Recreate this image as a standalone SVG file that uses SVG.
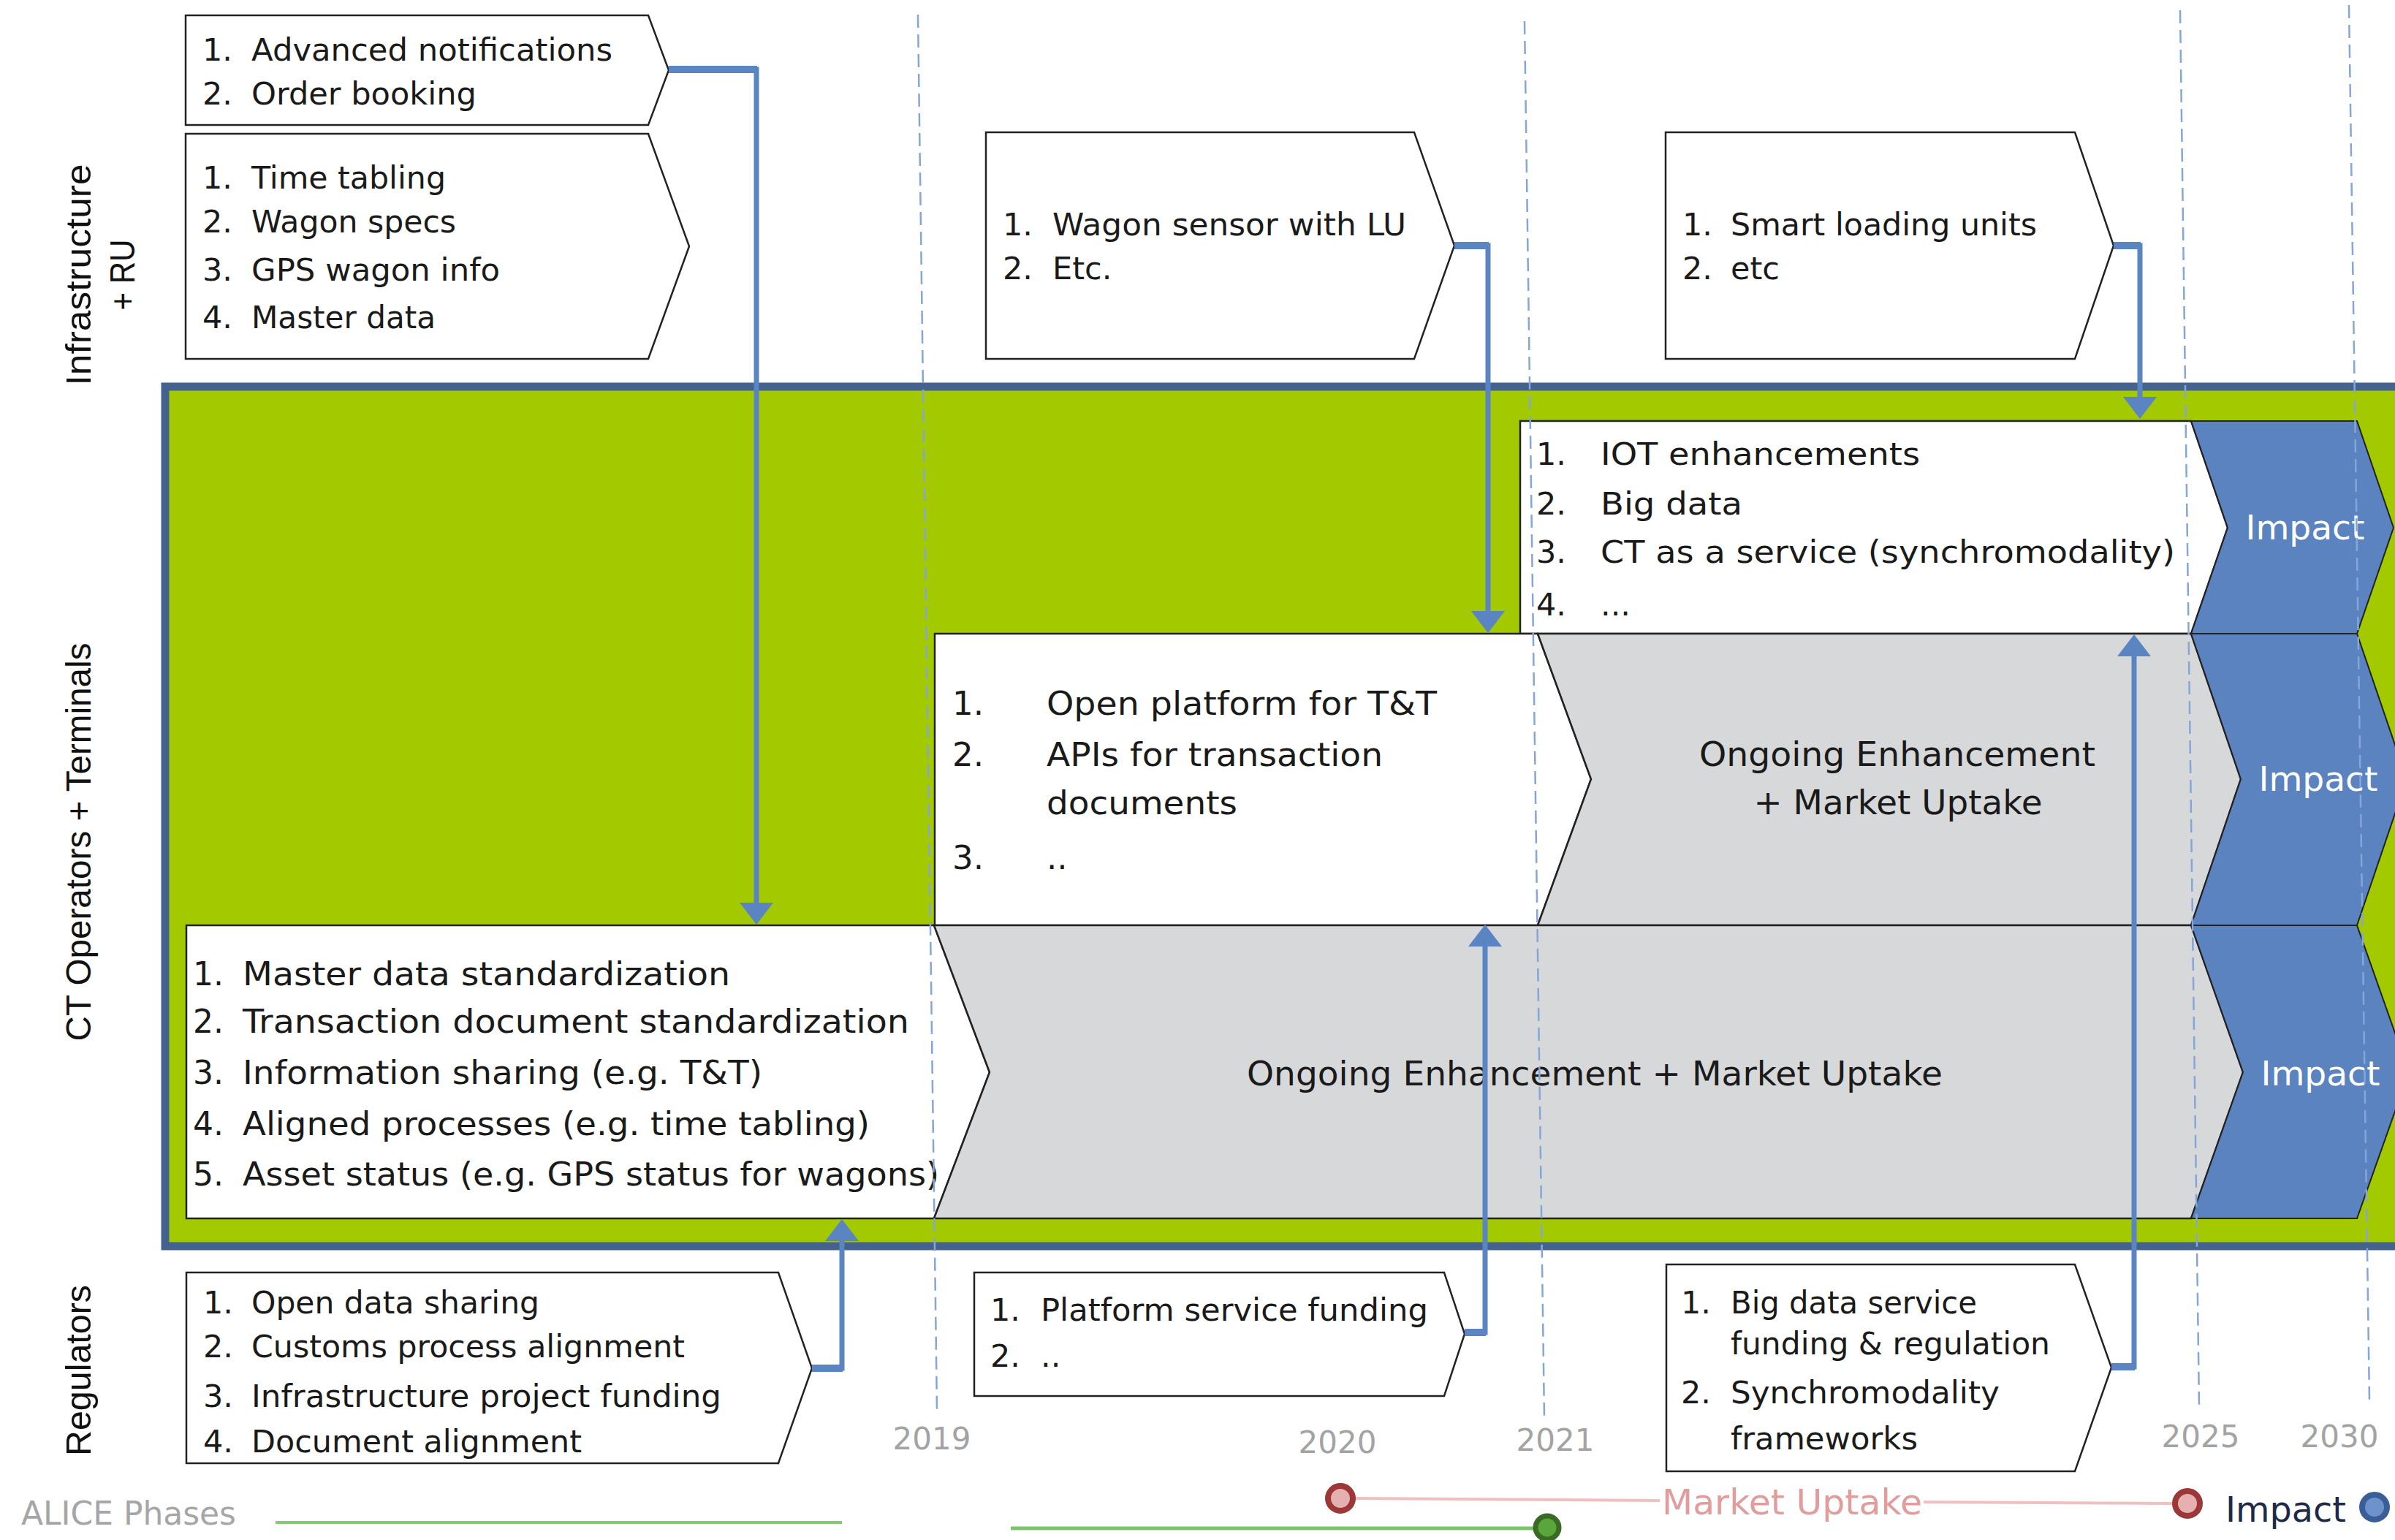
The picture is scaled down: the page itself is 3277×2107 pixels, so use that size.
<svg xmlns="http://www.w3.org/2000/svg" width="3277" height="2107" viewBox="0 0 3277 2107">
<style>
.t{font-family:"DejaVu Sans","Liberation Sans",sans-serif;font-size:43px;fill:#1a1a1a}
.t45{font-size:45px}
.t47{font-size:47px}
.t44{font-size:44px}
.mid{text-anchor:middle}
.imp-t{font-family:"DejaVu Sans","Liberation Sans",sans-serif;font-size:47px;fill:#ffffff;text-anchor:middle}
.lab{font-family:"Liberation Sans",Arial,sans-serif;font-size:48px;fill:#111111;text-anchor:middle}
.yr{font-family:"DejaVu Sans","Liberation Sans",sans-serif;font-size:42px;fill:#a3a3a3;text-anchor:middle}
.box{fill:#ffffff;stroke:#222222;stroke-width:2.5}
.gray{fill:#d7d8da;stroke:#222222;stroke-width:2.5}
.imp{fill:#5b83bf;stroke:#222222;stroke-width:2}
.dash{stroke:#84a6d9;stroke-width:2.5;stroke-dasharray:18 9;fill:none}
.conn{stroke:#5a84c2;stroke-width:7;fill:none;marker-end:url(#ah)}
.stub{stroke:#5a84c2;stroke-width:10;fill:none}
.red{fill:#e6b0b0;stroke:#9c3838;stroke-width:8}
</style>
<defs>
<marker id="ah" markerUnits="userSpaceOnUse" markerWidth="30" markerHeight="46" refX="0" refY="23" orient="auto" viewBox="0 0 30 46">
<path d="M0,0 L30,23 L0,46 z" fill="#5a84c2"/>
</marker>
</defs>
<rect width="3277" height="2107" fill="#ffffff"/>

<!-- lane labels -->
<g id="lane-labels">
<text class="lab" transform="translate(124,376) rotate(-90)" textLength="303" lengthAdjust="spacingAndGlyphs">Infrastructure</text>
<text class="lab" transform="translate(184,376) rotate(-90)" textLength="97" lengthAdjust="spacingAndGlyphs">+ RU</text>
<text class="lab" transform="translate(124,1152) rotate(-90)" textLength="545" lengthAdjust="spacingAndGlyphs">CT Operators + Terminals</text>
<text class="lab" transform="translate(124,1875) rotate(-90)" textLength="234" lengthAdjust="spacingAndGlyphs">Regulators</text>
</g>

<!-- green CT area -->
<g id="ct-area">
<rect x="226" y="529" width="3100" height="1176" fill="#a3c900" stroke="#45628f" stroke-width="11"/>
</g>

<!-- infrastructure boxes -->
<g id="n-advanced">
<path class="box" d="M254,21 H887 L915,96 L887,171 H254 Z"/>
<text class="t" x="277" y="83">1.</text><text class="t" x="344" y="83" textLength="494" lengthAdjust="spacingAndGlyphs">Advanced notifications</text>
<text class="t" x="277" y="143">2.</text><text class="t" x="344" y="143" textLength="308" lengthAdjust="spacingAndGlyphs">Order booking</text>
</g>
<g id="n-timetabling">
<path class="box" d="M254,183 H887 L943,337 L887,491 H254 Z"/>
<text class="t" x="277" y="258">1.</text><text class="t" x="344" y="258" textLength="266" lengthAdjust="spacingAndGlyphs">Time tabling</text>
<text class="t" x="277" y="318">2.</text><text class="t" x="344" y="318" textLength="280" lengthAdjust="spacingAndGlyphs">Wagon specs</text>
<text class="t" x="277" y="384">3.</text><text class="t" x="344" y="384" textLength="340" lengthAdjust="spacingAndGlyphs">GPS wagon info</text>
<text class="t" x="277" y="449">4.</text><text class="t" x="344" y="449" textLength="252" lengthAdjust="spacingAndGlyphs">Master data</text>
</g>
<g id="n-wagonsensor">
<path class="box" d="M1349,181 H1935 L1990,336 L1935,491 H1349 Z"/>
<text class="t" x="1372" y="322">1.</text><text class="t" x="1440" y="322" textLength="484" lengthAdjust="spacingAndGlyphs">Wagon sensor with LU</text>
<text class="t" x="1372" y="382">2.</text><text class="t" x="1440" y="382">Etc.</text>
</g>
<g id="n-smartlu">
<path class="box" d="M2279,181 H2839 L2892,336 L2839,491 H2279 Z"/>
<text class="t" x="2302" y="322">1.</text><text class="t" x="2368" y="322" textLength="419" lengthAdjust="spacingAndGlyphs">Smart loading units</text>
<text class="t" x="2302" y="382">2.</text><text class="t" x="2368" y="382">etc</text>
</g>

<!-- CT rows -->
<g id="n-iot">
<path class="box" d="M2080,576 H2998 L3048,722 L2998,867 H2080 Z"/>
<text class="t" x="2102" y="636">1.</text><text class="t" x="2190" y="636" textLength="437" lengthAdjust="spacingAndGlyphs">IOT enhancements</text>
<text class="t" x="2102" y="704">2.</text><text class="t" x="2190" y="704" textLength="194" lengthAdjust="spacingAndGlyphs">Big data</text>
<text class="t" x="2102" y="770">3.</text><text class="t" x="2190" y="770" textLength="786" lengthAdjust="spacingAndGlyphs">CT as a service (synchromodality)</text>
<text class="t" x="2102" y="842">4.</text><text class="t" x="2190" y="842">...</text>
</g>
<g id="n-impact-top">
<path class="imp" d="M2998,576 H3225 L3275,722 L3225,867 H2998 L3048,722 Z"/>
<text class="imp-t" x="3154" y="738" textLength="163" lengthAdjust="spacingAndGlyphs">Impact</text>
</g>

<g id="n-openplatform">
<path class="box" d="M1279,867 H2104 L2177,1066 L2104,1266 H1279 Z"/>
<text class="t t45" x="1303" y="978">1.</text><text class="t t45" x="1432" y="978" textLength="534" lengthAdjust="spacingAndGlyphs">Open platform for T&amp;T</text>
<text class="t t45" x="1303" y="1048">2.</text><text class="t t45" x="1432" y="1048" textLength="460" lengthAdjust="spacingAndGlyphs">APIs for transaction</text>
<text class="t t45" x="1432" y="1114" textLength="261" lengthAdjust="spacingAndGlyphs">documents</text>
<text class="t t45" x="1303" y="1189">3.</text><text class="t t45" x="1432" y="1189">..</text>
</g>
<g id="n-ongoing-mid">
<path class="gray" d="M2104,867 H2998 L3066,1066 L2998,1266 H2104 L2177,1066 Z"/>
<text class="t t47 mid" x="2596" y="1048" textLength="542" lengthAdjust="spacingAndGlyphs">Ongoing Enhancement</text>
<text class="t t47 mid" x="2597" y="1114" textLength="395" lengthAdjust="spacingAndGlyphs">+ Market Uptake</text>
</g>
<g id="n-impact-mid">
<path class="imp" d="M2998,867 H3225 L3293,1066 L3225,1266 H2998 L3066,1066 Z"/>
<text class="imp-t" x="3172" y="1082" textLength="163" lengthAdjust="spacingAndGlyphs">Impact</text>
</g>

<g id="n-masterdata">
<path class="box" d="M255,1266 H1278 L1354,1467 L1278,1667 H255 Z"/>
<text class="t t44" x="264" y="1348">1.</text><text class="t t44" x="332" y="1348" textLength="667" lengthAdjust="spacingAndGlyphs">Master data standardization</text>
<text class="t t44" x="264" y="1413">2.</text><text class="t t44" x="332" y="1413" textLength="912" lengthAdjust="spacingAndGlyphs">Transaction document standardization</text>
<text class="t t44" x="264" y="1483">3.</text><text class="t t44" x="332" y="1483" textLength="711" lengthAdjust="spacingAndGlyphs">Information sharing (e.g. T&amp;T)</text>
<text class="t t44" x="264" y="1553">4.</text><text class="t t44" x="332" y="1553" textLength="858" lengthAdjust="spacingAndGlyphs">Aligned processes (e.g. time tabling)</text>
<text class="t t44" x="264" y="1622">5.</text><text class="t t44" x="332" y="1622" textLength="953" lengthAdjust="spacingAndGlyphs">Asset status (e.g. GPS status for wagons)</text>
</g>
<g id="n-ongoing-bottom">
<path class="gray" d="M1278,1266 H2998 L3069,1467 L2998,1667 H1278 L1354,1467 Z"/>
<text class="t t47 mid" x="2182" y="1485" textLength="952" lengthAdjust="spacingAndGlyphs">Ongoing Enhancement + Market Uptake</text>
</g>
<g id="n-impact-bottom">
<path class="imp" d="M2998,1266 H3225 L3296,1467 L3225,1667 H2998 L3069,1467 Z"/>
<text class="imp-t" x="3175" y="1485" textLength="163" lengthAdjust="spacingAndGlyphs">Impact</text>
</g>

<!-- regulators -->
<g id="n-opendata">
<path class="box" d="M255,1741 H1065 L1111,1872 L1065,2002 H255 Z"/>
<text class="t" x="278" y="1797">1.</text><text class="t" x="344" y="1797" textLength="394" lengthAdjust="spacingAndGlyphs">Open data sharing</text>
<text class="t" x="278" y="1857">2.</text><text class="t" x="344" y="1857" textLength="593" lengthAdjust="spacingAndGlyphs">Customs process alignment</text>
<text class="t" x="278" y="1925">3.</text><text class="t" x="344" y="1925" textLength="643" lengthAdjust="spacingAndGlyphs">Infrastructure project funding</text>
<text class="t" x="278" y="1987">4.</text><text class="t" x="344" y="1987" textLength="452" lengthAdjust="spacingAndGlyphs">Document alignment</text>
</g>
<g id="n-platformfunding">
<path class="box" d="M1333,1741 H1976 L2004,1825 L1976,1910 H1333 Z"/>
<text class="t" x="1355" y="1807">1.</text><text class="t" x="1424" y="1807" textLength="530" lengthAdjust="spacingAndGlyphs">Platform service funding</text>
<text class="t" x="1355" y="1870">2.</text><text class="t" x="1424" y="1870">..</text>
</g>
<g id="n-bigdatafunding">
<path class="box" d="M2280,1730 H2839 L2889,1871 L2839,2013 H2280 Z"/>
<text class="t" x="2300" y="1797">1.</text><text class="t" x="2368" y="1797" textLength="337" lengthAdjust="spacingAndGlyphs">Big data service</text>
<text class="t" x="2368" y="1853" textLength="437" lengthAdjust="spacingAndGlyphs">funding &amp; regulation</text>
<text class="t" x="2300" y="1920">2.</text><text class="t" x="2368" y="1920" textLength="368" lengthAdjust="spacingAndGlyphs">Synchromodality</text>
<text class="t" x="2368" y="1983" textLength="256" lengthAdjust="spacingAndGlyphs">frameworks</text>
</g>

<!-- year grid -->
<g id="years">
<line class="dash" x1="1256" y1="20" x2="1282" y2="1930"/>
<line class="dash" x1="2086" y1="29" x2="2113" y2="1940"/>
<line class="dash" x1="2983" y1="14" x2="3009" y2="1925"/>
<line class="dash" x1="3214" y1="7" x2="3242" y2="1917"/>
<text class="yr" x="1275" y="1983">2019</text>
<text class="yr" x="1830" y="1988">2020</text>
<text class="yr" x="2128" y="1985">2021</text>
<text class="yr" x="3011" y="1980">2025</text>
<text class="yr" x="3201" y="1980">2030</text>
</g>

<!-- connectors -->
<g id="connectors">
<path class="conn" d="M915,95 H1035 V1235"/>
<path class="conn" d="M1990,336 H2036 V836"/>
<path class="conn" d="M2892,336 H2928 V543"/>
<path class="conn" d="M1111,1872 H1152 V1698"/>
<path class="conn" d="M2004,1823 H2032 V1295"/>
<path class="conn" d="M2889,1870 H2920 V898"/>
<path class="stub" d="M915,95 H1036"/>
<path class="stub" d="M1990,336 H2037"/>
<path class="stub" d="M2892,336 H2929"/>
<path class="stub" d="M1111,1872 H1153"/>
<path class="stub" d="M2004,1823 H2033"/>
<path class="stub" d="M2889,1870 H2921"/>
</g>

<!-- phases legend -->
<g id="phases">
<text x="29" y="2086" font-family="DejaVu Sans, Liberation Sans, sans-serif" font-size="44" fill="#a6a6a6" textLength="294" lengthAdjust="spacingAndGlyphs">ALICE Phases</text>
<line x1="377" y1="2083" x2="1152" y2="2083" stroke="#86c876" stroke-width="4"/>
<line x1="1383" y1="2091" x2="2100" y2="2091" stroke="#7cc46a" stroke-width="5"/>
<circle cx="2117" cy="2090" r="16" fill="#5aa63a" stroke="#3b6a26" stroke-width="7"/>
<line x1="1853" y1="2050" x2="2271" y2="2053" stroke="#f0c0c0" stroke-width="4"/>
<circle class="red" cx="1834" cy="2050" r="17"/>
<text x="2274" y="2072" font-family="DejaVu Sans, Liberation Sans, sans-serif" font-size="48" fill="#e29c9c" textLength="356" lengthAdjust="spacingAndGlyphs">Market Uptake</text>
<line x1="2632" y1="2055" x2="2975" y2="2057" stroke="#f0c0c0" stroke-width="4"/>
<circle class="red" cx="2993" cy="2057" r="17"/>
<text x="3045" y="2082" font-family="DejaVu Sans, Liberation Sans, sans-serif" font-size="48" fill="#1e2a48" textLength="165" lengthAdjust="spacingAndGlyphs">Impact</text>
<circle cx="3249" cy="2062" r="17" fill="#6d92cc" stroke="#3c5e98" stroke-width="8"/>
</g>
</svg>
